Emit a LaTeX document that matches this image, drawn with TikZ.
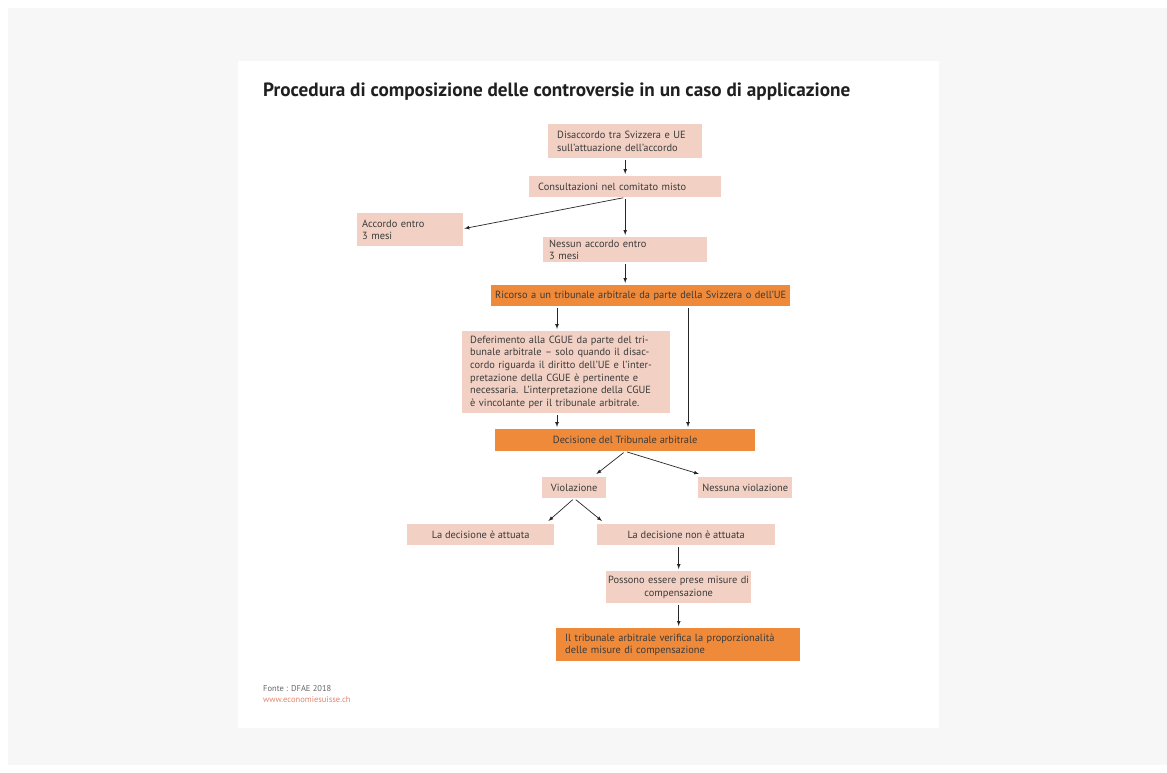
\documentclass[tikz,border=0pt]{standalone}
\usepackage{fontspec}
\setmainfont{PT Sans}
\definecolor{boxpink}{HTML}{F2D1C4}
\definecolor{boxorange}{HTML}{EF8A3A}
\definecolor{txtgray}{HTML}{3A3A3A}
\definecolor{webred}{HTML}{E2846C}
\begin{document}
\begin{tikzpicture}[x=1pt,y=-1pt,
    box/.style={fill=boxpink, anchor=north west, inner sep=0pt, text=txtgray,
      font=\fontsize{10.4}{12.6}\selectfont},
    obox/.style={box, fill=boxorange},
    arr/.style={-latex, draw=black!85, line width=0.7pt, shorten <=2pt, shorten >=2pt}]
  % frame
  \fill[white] (0,0) rectangle (1167,773);
  \fill[black!3] (8,8) rectangle (1167,765);
  \fill[white] (238,61) rectangle (939,728);
  \useasboundingbox (0,0) rectangle (1167,773);

  \node[anchor=west, inner sep=0pt, font=\bfseries\fontsize{19.2}{22}\selectfont, text=black!88] (title) at (263,92)
    {Procedura di composizione delle controversie in un caso di applicazione};

  % boxes
  \node[box, minimum width=154pt, minimum height=34pt, text width=136pt, align=left] (dis) at (548,124)
    {Disaccordo tra Svizzera e UE\\sull'attuazione dell'accordo};
  \node[box, minimum width=192pt, minimum height=21pt, text width=174pt, align=left] (cons) at (529,176)
    {Consultazioni nel comitato misto};
  \node[box, minimum width=106pt, minimum height=33pt, text width=96pt, align=left] (acc) at (357,213)
    {Accordo entro\\3 mesi};
  \node[box, minimum width=164pt, minimum height=25pt, text width=152pt, align=left] (nacc) at (543,237)
    {Nessun accordo entro\\3 mesi};
  \node[obox, minimum width=299pt, minimum height=21pt, text width=295pt, align=center] (ric) at (491,285)
    {Ricorso a un tribunale arbitrale da parte della Svizzera o dell'UE};
  \node[box, minimum width=208pt, minimum height=82pt, text width=192pt, align=left] (def) at (462,331)
    {Deferimento alla CGUE da parte del tri-\\bunale arbitrale -- solo quando il disac-\\cordo riguarda il diritto dell'UE e l'inter-\\pretazione della CGUE è pertinente e\\necessaria. L'interpretazione della CGUE\\è vincolante per il tribunale arbitrale.};
  \node[obox, minimum width=260pt, minimum height=22pt, align=center] (dec) at (495,429)
    {Decisione del Tribunale arbitrale};
  \node[box, minimum width=64pt, minimum height=21pt, align=center] (viol) at (542,477)
    {Violazione};
  \node[box, minimum width=94pt, minimum height=21pt, align=center] (nviol) at (698,477)
    {Nessuna violazione};
  \node[box, minimum width=147pt, minimum height=21pt, align=center] (att) at (407,524)
    {La decisione è attuata};
  \node[box, minimum width=178pt, minimum height=21pt, align=center] (natt) at (597,524)
    {La decisione non è attuata};
  \node[box, minimum width=145pt, minimum height=32pt, text width=143pt, align=center] (mis) at (606,571)
    {Possono essere prese misure di\\compensazione};
  \node[obox, minimum width=244pt, minimum height=33pt, text width=226pt, align=left] (prop) at (556,628)
    {Il tribunale arbitrale verifica la proporzionalità\\delle misure di compensazione};

  % footer
  \node[anchor=west, inner sep=0pt, font=\fontsize{8.5}{10}\selectfont, text=black!60] (src) at (263,689)
    {Fonte : DFAE 2018};
  \node[anchor=west, inner sep=0pt, font=\fontsize{8.5}{10}\selectfont, text=webred] (web) at (263,700)
    {www.economiesuisse.ch};

  % arrows
  \coordinate (xa) at (557,0);
  \coordinate (xb) at (688,0);
  \draw[arr] (dis.south) -- (cons.north);
  \draw[arr, shorten >=1pt] (cons.south) -- ([yshift=1pt]acc.east);
  \draw[arr] (cons.south) -- (nacc.north);
  \draw[arr] (nacc.south) -- (nacc.south |- ric.north);
  \draw[arr] (xa |- ric.south) -- (xa |- def.north);
  \draw[arr] (xb |- ric.south) -- (xb |- dec.north);
  \draw[arr] (xa |- def.south) -- (xa |- dec.north);
  \draw[arr, shorten >=0pt] (dec.south) -- ([xshift=-10pt,yshift=3pt]viol.north east);
  \draw[arr, shorten >=0pt] (dec.south) -- ([xshift=1pt,yshift=3pt]nviol.north west);
  \draw[arr, shorten >=0pt] (viol.south) -- ([xshift=-6pt,yshift=3pt]att.north east);
  \draw[arr, shorten >=0pt] (viol.south) -- ([xshift=5pt,yshift=3pt]natt.north west);
  \draw[arr] (mis.north |- natt.south) -- (mis.north);
  \draw[arr] (mis.south) -- (mis.south |- prop.north);
\end{tikzpicture}
\end{document}
